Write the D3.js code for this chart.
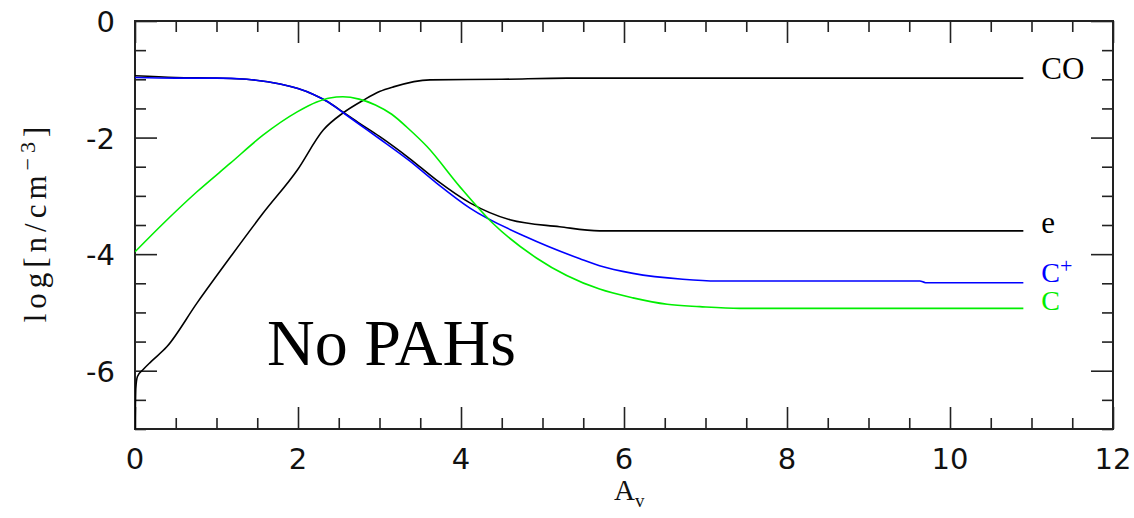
<!DOCTYPE html>
<html><head><meta charset="utf-8">
<script src="https://cdn.jsdelivr.net/npm/d3@7"></script>
<style>body{margin:0;background:#fff}svg{display:block}</style>
</head><body>
<svg id="c" width="1134" height="518"></svg>
<script>
// Data
const coX = [0, 0.005, 0.01, 0.03, 0.1, 0.2, 0.39, 0.76, 1.17, 1.57, 1.99, 2.31, 2.55, 2.80, 3.0, 3.17, 3.62, 4.5, 5.3, 7, 9, 10.9];
const coY = [-7, -6.6, -6.3, -6.1, -5.98, -5.84, -5.59, -4.84, -4.05, -3.30, -2.56, -1.87, -1.58, -1.36, -1.21, -1.13, -1.01, -1.0, -0.98, -0.98, -0.98, -0.98];
const eX = [0, 0.5, 1.0, 1.37, 1.78, 2.0, 2.19, 2.37, 2.55, 2.76, 3.0, 3.37, 3.7, 4.11, 4.6, 5.21, 5.7, 7, 9, 10.9];
const eY = [-0.94, -0.97, -0.98, -1.0, -1.08, -1.16, -1.26, -1.39, -1.56, -1.76, -1.98, -2.36, -2.73, -3.12, -3.41, -3.53, -3.6, -3.6, -3.6, -3.6];
const cpX = [0, 0.5, 1.0, 1.37, 1.78, 2.0, 2.19, 2.37, 2.55, 2.76, 3.0, 3.37, 3.7, 4.11, 4.81, 5.46, 5.7, 6.11, 6.72, 7.14, 9.63, 9.7, 10.9];
const cpY = [-0.97, -0.98, -0.98, -1.0, -1.08, -1.16, -1.26, -1.39, -1.57, -1.78, -2.02, -2.40, -2.78, -3.21, -3.71, -4.08, -4.2, -4.33, -4.43, -4.46, -4.46, -4.49, -4.49];
const cX = [0, 0.35, 0.76, 1.17, 1.57, 1.99, 2.23, 2.39, 2.55, 2.75, 2.95, 3.15, 3.35, 3.58, 3.99, 4.39, 4.93, 5.7, 6.11, 6.53, 6.93, 7.42, 10.9];
const cY = [-3.96, -3.47, -2.93, -2.44, -1.96, -1.56, -1.39, -1.32, -1.30, -1.34, -1.44, -1.60, -1.84, -2.15, -2.85, -3.47, -4.07, -4.6, -4.75, -4.86, -4.9, -4.93, -4.93];
const xTicks = [0, 2, 4, 6, 8, 10, 12];
const yTicks = [0, -2, -4, -6];
const xTickLabels = ["0", "2", "4", "6", "8", "10", "12"];
const yTickLabels = ["0", "-2", "-4", "-6"];
const series = [
  {name: "CO", xs: coX, ys: coY, color: "#000000"},
  {name: "e", xs: eX, ys: eY, color: "#000000"},
  {name: "C+", xs: cpX, ys: cpY, color: "#0000ff"},
  {name: "C", xs: cX, ys: cY, color: "#00ee00"}
];

const svg = d3.select("#c");
const L = 135, T = 21, W = 978, H = 408;
const x = d3.scaleLinear().domain([0, 12]).range([L, L + W]);
const y = d3.scaleLinear().domain([-7, 0]).range([T + H, T]);

const minorX = d3.range(0, 12.01, 0.5).filter(v => v % 2 !== 0);
const minorY = d3.range(-7, 0.01, 0.5).filter(v => v % 2 !== 0);

function ax(gen, tx, ty, vals, size) {
  const g = svg.append("g").attr("transform", `translate(${tx},${ty})`)
    .call(gen.tickValues(vals).tickSize(size).tickFormat(""));
  g.select(".domain").remove();
  g.selectAll("line").attr("stroke", "#222").attr("stroke-width", 1.6);
  return g;
}
ax(d3.axisBottom(x), 0, T + H, xTicks, -22);
ax(d3.axisBottom(x), 0, T + H, minorX, -11);
ax(d3.axisTop(x), 0, T, xTicks, -22);
ax(d3.axisTop(x), 0, T, minorX, -11);
ax(d3.axisLeft(y), L, 0, yTicks, -22);
ax(d3.axisLeft(y), L, 0, minorY, -11);
ax(d3.axisRight(y), L + W, 0, yTicks, -22);
ax(d3.axisRight(y), L + W, 0, minorY, -11);

svg.append("rect").attr("x", L).attr("y", T).attr("width", W).attr("height", H)
  .attr("fill", "none").attr("stroke", "#222").attr("stroke-width", 2);

// tick labels
const tf = "'DejaVu Sans', sans-serif";
svg.append("g").selectAll("text").data(xTicks).join("text")
  .attr("x", d => x(d)).attr("y", 469).attr("text-anchor", "middle")
  .attr("font-family", tf).attr("font-size", 29).attr("fill", "#111")
  .text((d, i) => xTickLabels[i]);
svg.append("g").selectAll("text").data(yTicks).join("text")
  .attr("x", 115).attr("y", d => y(d) + 11).attr("text-anchor", "end")
  .attr("font-family", tf).attr("font-size", 29).attr("fill", "#111")
  .text((d, i) => yTickLabels[i]);

// curves
const line = d3.line().x(d => x(d[0])).y(d => y(d[1])).curve(d3.curveMonotoneX);
svg.append("clipPath").attr("id", "pc").append("rect")
  .attr("x", L).attr("y", T).attr("width", W).attr("height", H);
series.forEach(s => {
  const pts = s.xs.map((v, i) => [v, s.ys[i]]);
  svg.append("path").datum(pts).attr("d", line).attr("fill", "none")
    .attr("stroke", s.color).attr("stroke-width", 1.6).attr("clip-path", "url(#pc)");
});

// curve labels
const lf = "'Liberation Serif', 'DejaVu Serif', serif";
const lx = x(11.12);
svg.append("text").attr("x", lx).attr("y", 79).attr("font-family", lf).attr("font-size", 31).attr("fill", "#000").text("CO");
svg.append("text").attr("x", lx).attr("y", 233).attr("font-family", lf).attr("font-size", 31).attr("fill", "#000").text("e");
const cpt = svg.append("text").attr("x", lx).attr("y", 282).attr("font-family", lf).attr("font-size", 28).attr("fill", "#0000ff");
cpt.append("tspan").text("C");
cpt.append("tspan").attr("font-size", 22).attr("dy", -9).text("+");
svg.append("text").attr("x", lx).attr("y", 310).attr("font-family", lf).attr("font-size", 28).attr("fill", "#00ee00").text("C");

// axis titles
const at = svg.append("text").attr("x", 614).attr("y", 500).attr("font-family", lf).attr("font-size", 29).attr("fill", "#111");
at.append("tspan").text("A");
at.append("tspan").attr("font-size", 19).attr("dy", 7).text("v");

const yt = svg.append("text").attr("transform", "translate(46,222) rotate(-90)")
  .attr("text-anchor", "middle").attr("font-family", lf).attr("font-size", 31)
  .attr("letter-spacing", 5).attr("fill", "#111");
yt.append("tspan").text("log[n/cm");
yt.append("tspan").attr("font-size", 22).attr("dy", -11).text("−3");
yt.append("tspan").attr("dy", 11).text("]");

svg.append("text").attr("x", 267).attr("y", 365).attr("font-family", "'Liberation Serif', 'Times New Roman', serif")
  .attr("font-size", 66).attr("fill", "#000").text("No PAHs");
</script>
</body></html>
